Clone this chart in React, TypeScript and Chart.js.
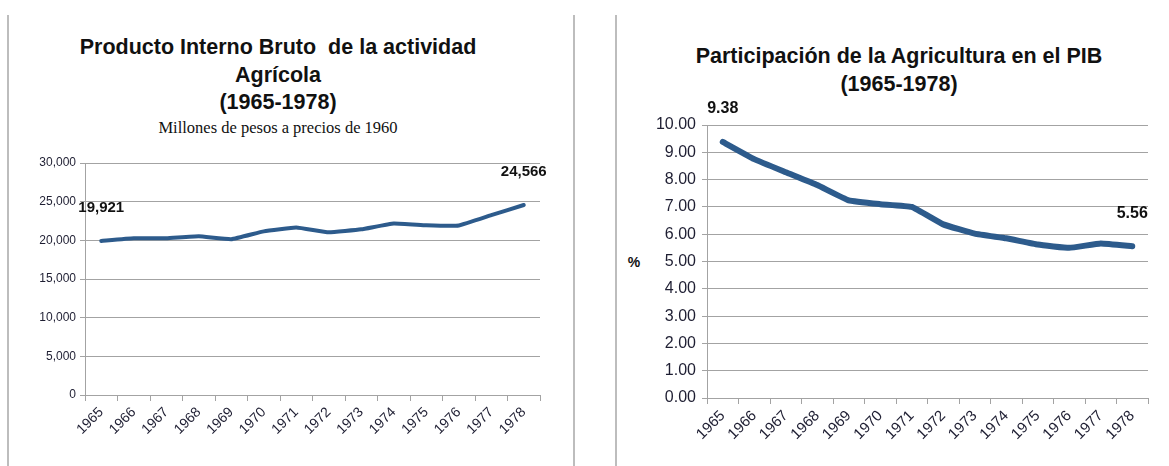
import React, { useEffect, useRef } from "react";
import { Chart, registerables } from "chart.js";

Chart.register(...registerables);

// ---- Data ----
const years = ["1965", "1966", "1967", "1968", "1969", "1970", "1971", "1972", "1973", "1974", "1975", "1976", "1977", "1978"];
const pibAgricola = [19921, 20260, 20280, 20520, 20150, 21160, 21650, 21030, 21420, 22180, 21950, 21920, 23250, 24566];
const participacionPIB = [9.38, 8.75, 8.27, 7.8, 7.24, 7.1, 7.0, 6.36, 6.02, 5.85, 5.62, 5.5, 5.66, 5.56];

const leftTitle = ["Producto Interno Bruto  de la actividad", "Agrícola", "(1965-1978)"];
const leftSubtitle = "Millones de pesos a precios de 1960";
const rightTitle = ["Participación de la Agricultura en el PIB", "(1965-1978)"];
const rightAxisLabel = "%";

const labelledIdx = [0, 13];

const FONT = "'Liberation Sans', Arial, sans-serif";
const LINE = "#2D5B8C";
const GRID = "#A3A3A3";
const TICK = "#1E1E32";

function endLabels(fmt: (v: number) => string, font: string, offset: number) {
  return {
    id: "endLabels",
    afterDatasetsDraw(chart: any) {
      const meta = chart.getDatasetMeta(0);
      const data = chart.data.datasets[0].data as number[];
      const ctx = chart.ctx;
      ctx.save();
      ctx.font = font;
      ctx.fillStyle = "#111";
      ctx.textAlign = "center";
      ctx.textBaseline = "middle";
      labelledIdx.forEach((i) => {
        const p = meta.data[i];
        ctx.fillText(fmt(data[i]), p.x, p.y - offset);
      });
      ctx.restore();
    },
  };
}

function makeConfig(opts: {
  data: number[];
  lineWidth: number;
  min: number;
  max: number;
  step: number;
  fmt: (v: number) => string;
  yWidth: number;
  xHeight: number;
  padTop: number;
  padRight: number;
  yFont: number;
  xFont: number;
  xPad: number;
  yPad: number;
  labelFont: string;
}) {
  return {
    type: "line" as const,
    data: {
      labels: years,
      datasets: [
        {
          data: opts.data,
          borderColor: LINE,
          borderWidth: opts.lineWidth,
          pointRadius: 0,
          tension: 0.1,
          borderCapStyle: "round" as const,
          borderJoinStyle: "round" as const,
          fill: false,
        },
      ],
    },
    options: {
      responsive: false,
      animation: false as const,
      layout: { padding: { top: opts.padTop, right: opts.padRight, left: 0, bottom: 0 } },
      plugins: { legend: { display: false }, tooltip: { enabled: false }, title: { display: false } },
      scales: {
        x: {
          type: "category" as const,
          offset: true,
          grid: { offset: true, drawOnChartArea: false, drawTicks: true, tickLength: 6, color: GRID },
          border: { color: GRID, width: 1 },
          ticks: {
            autoSkip: false,
            minRotation: 45,
            maxRotation: 45,
            padding: opts.xPad,
            color: TICK,
            font: { family: FONT, size: opts.xFont },
          },
          afterFit(scale: any) {
            scale.height = opts.xHeight;
          },
        },
        y: {
          min: opts.min,
          max: opts.max,
          grid: { color: GRID, drawTicks: true, tickLength: 5, lineWidth: 1 },
          border: { color: GRID, width: 1 },
          ticks: {
            stepSize: opts.step,
            padding: opts.yPad,
            color: TICK,
            font: { family: FONT, size: opts.yFont },
            callback: (v: any) => opts.fmt(Number(v)),
          },
          afterFit(scale: any) {
            scale.width = opts.yWidth;
          },
        },
      },
    },
    plugins: [endLabels(opts.fmt, opts.labelFont, 33)],
  };
}

function LineChart(props: { config: any; width: number; height: number; style: React.CSSProperties }) {
  const ref = useRef<HTMLCanvasElement | null>(null);
  useEffect(() => {
    if (!ref.current) return;
    const chart = new Chart(ref.current, props.config);
    return () => chart.destroy();
  }, []);
  return <canvas ref={ref} width={props.width} height={props.height} style={{ position: "absolute", ...props.style }} />;
}

const fmtThousands = (v: number) => v.toLocaleString("en-US");
const fmtTwo = (v: number) => v.toFixed(2);

export default function App() {
  const leftConfig = makeConfig({
    data: pibAgricola,
    lineWidth: 4,
    min: 0,
    max: 30000,
    step: 5000,
    fmt: fmtThousands,
    yWidth: 75,
    xHeight: 71,
    padTop: 23,
    padRight: 32,
    yFont: 12,
    xFont: 14,
    xPad: 3,
    yPad: 4,
    labelFont: `bold 15px ${FONT}`,
  });
  const rightConfig = makeConfig({
    data: participacionPIB,
    lineWidth: 6,
    min: 0,
    max: 10,
    step: 1,
    fmt: fmtTwo,
    yWidth: 89,
    xHeight: 68,
    padTop: 25,
    padRight: 21,
    yFont: 16,
    xFont: 15,
    xPad: 3,
    yPad: 6,
    labelFont: `bold 16px ${FONT}`,
  });

  const sep = (x: number): React.CSSProperties => ({
    position: "absolute",
    left: x,
    top: 15,
    width: 2,
    height: 451,
    background: "#BDBDBD",
  });

  const titleStyle: React.CSSProperties = {
    position: "absolute",
    fontFamily: FONT,
    fontWeight: "bold",
    fontSize: 21.5,
    lineHeight: "27.5px",
    textAlign: "center",
    color: "#111",
    whiteSpace: "pre",
  };

  return (
    <div style={{ position: "absolute", left: 0, top: 0, width: 1169, height: 466, background: "#fff", overflow: "hidden" }}>
      <div style={sep(7)} />
      <div style={sep(573)} />
      <div style={sep(615)} />
      <div style={{ ...titleStyle, left: 20, width: 516, top: 34 }}>
        {leftTitle.map((t, i) => (
          <div key={i}>{t}</div>
        ))}
      </div>
      <div
        style={{
          position: "absolute",
          left: 20,
          width: 516,
          top: 118,
          fontFamily: "'Liberation Serif', serif",
          fontSize: 16.5,
          lineHeight: "19px",
          textAlign: "center",
          color: "#111",
        }}
      >
        {leftSubtitle}
      </div>
      <div style={{ ...titleStyle, left: 640, width: 518, top: 43 }}>
        {rightTitle.map((t, i) => (
          <div key={i}>{t}</div>
        ))}
      </div>
      <div
        style={{
          position: "absolute",
          left: 624,
          width: 20,
          top: 253,
          fontFamily: FONT,
          fontWeight: "bold",
          fontSize: 14,
          lineHeight: "18px",
          textAlign: "center",
          color: "#111",
        }}
      >
        {rightAxisLabel}
      </div>
      <LineChart config={leftConfig} width={562} height={326} style={{ left: 10, top: 140 }} />
      <LineChart config={rightConfig} width={551} height={366} style={{ left: 618, top: 100 }} />
    </div>
  );
}
